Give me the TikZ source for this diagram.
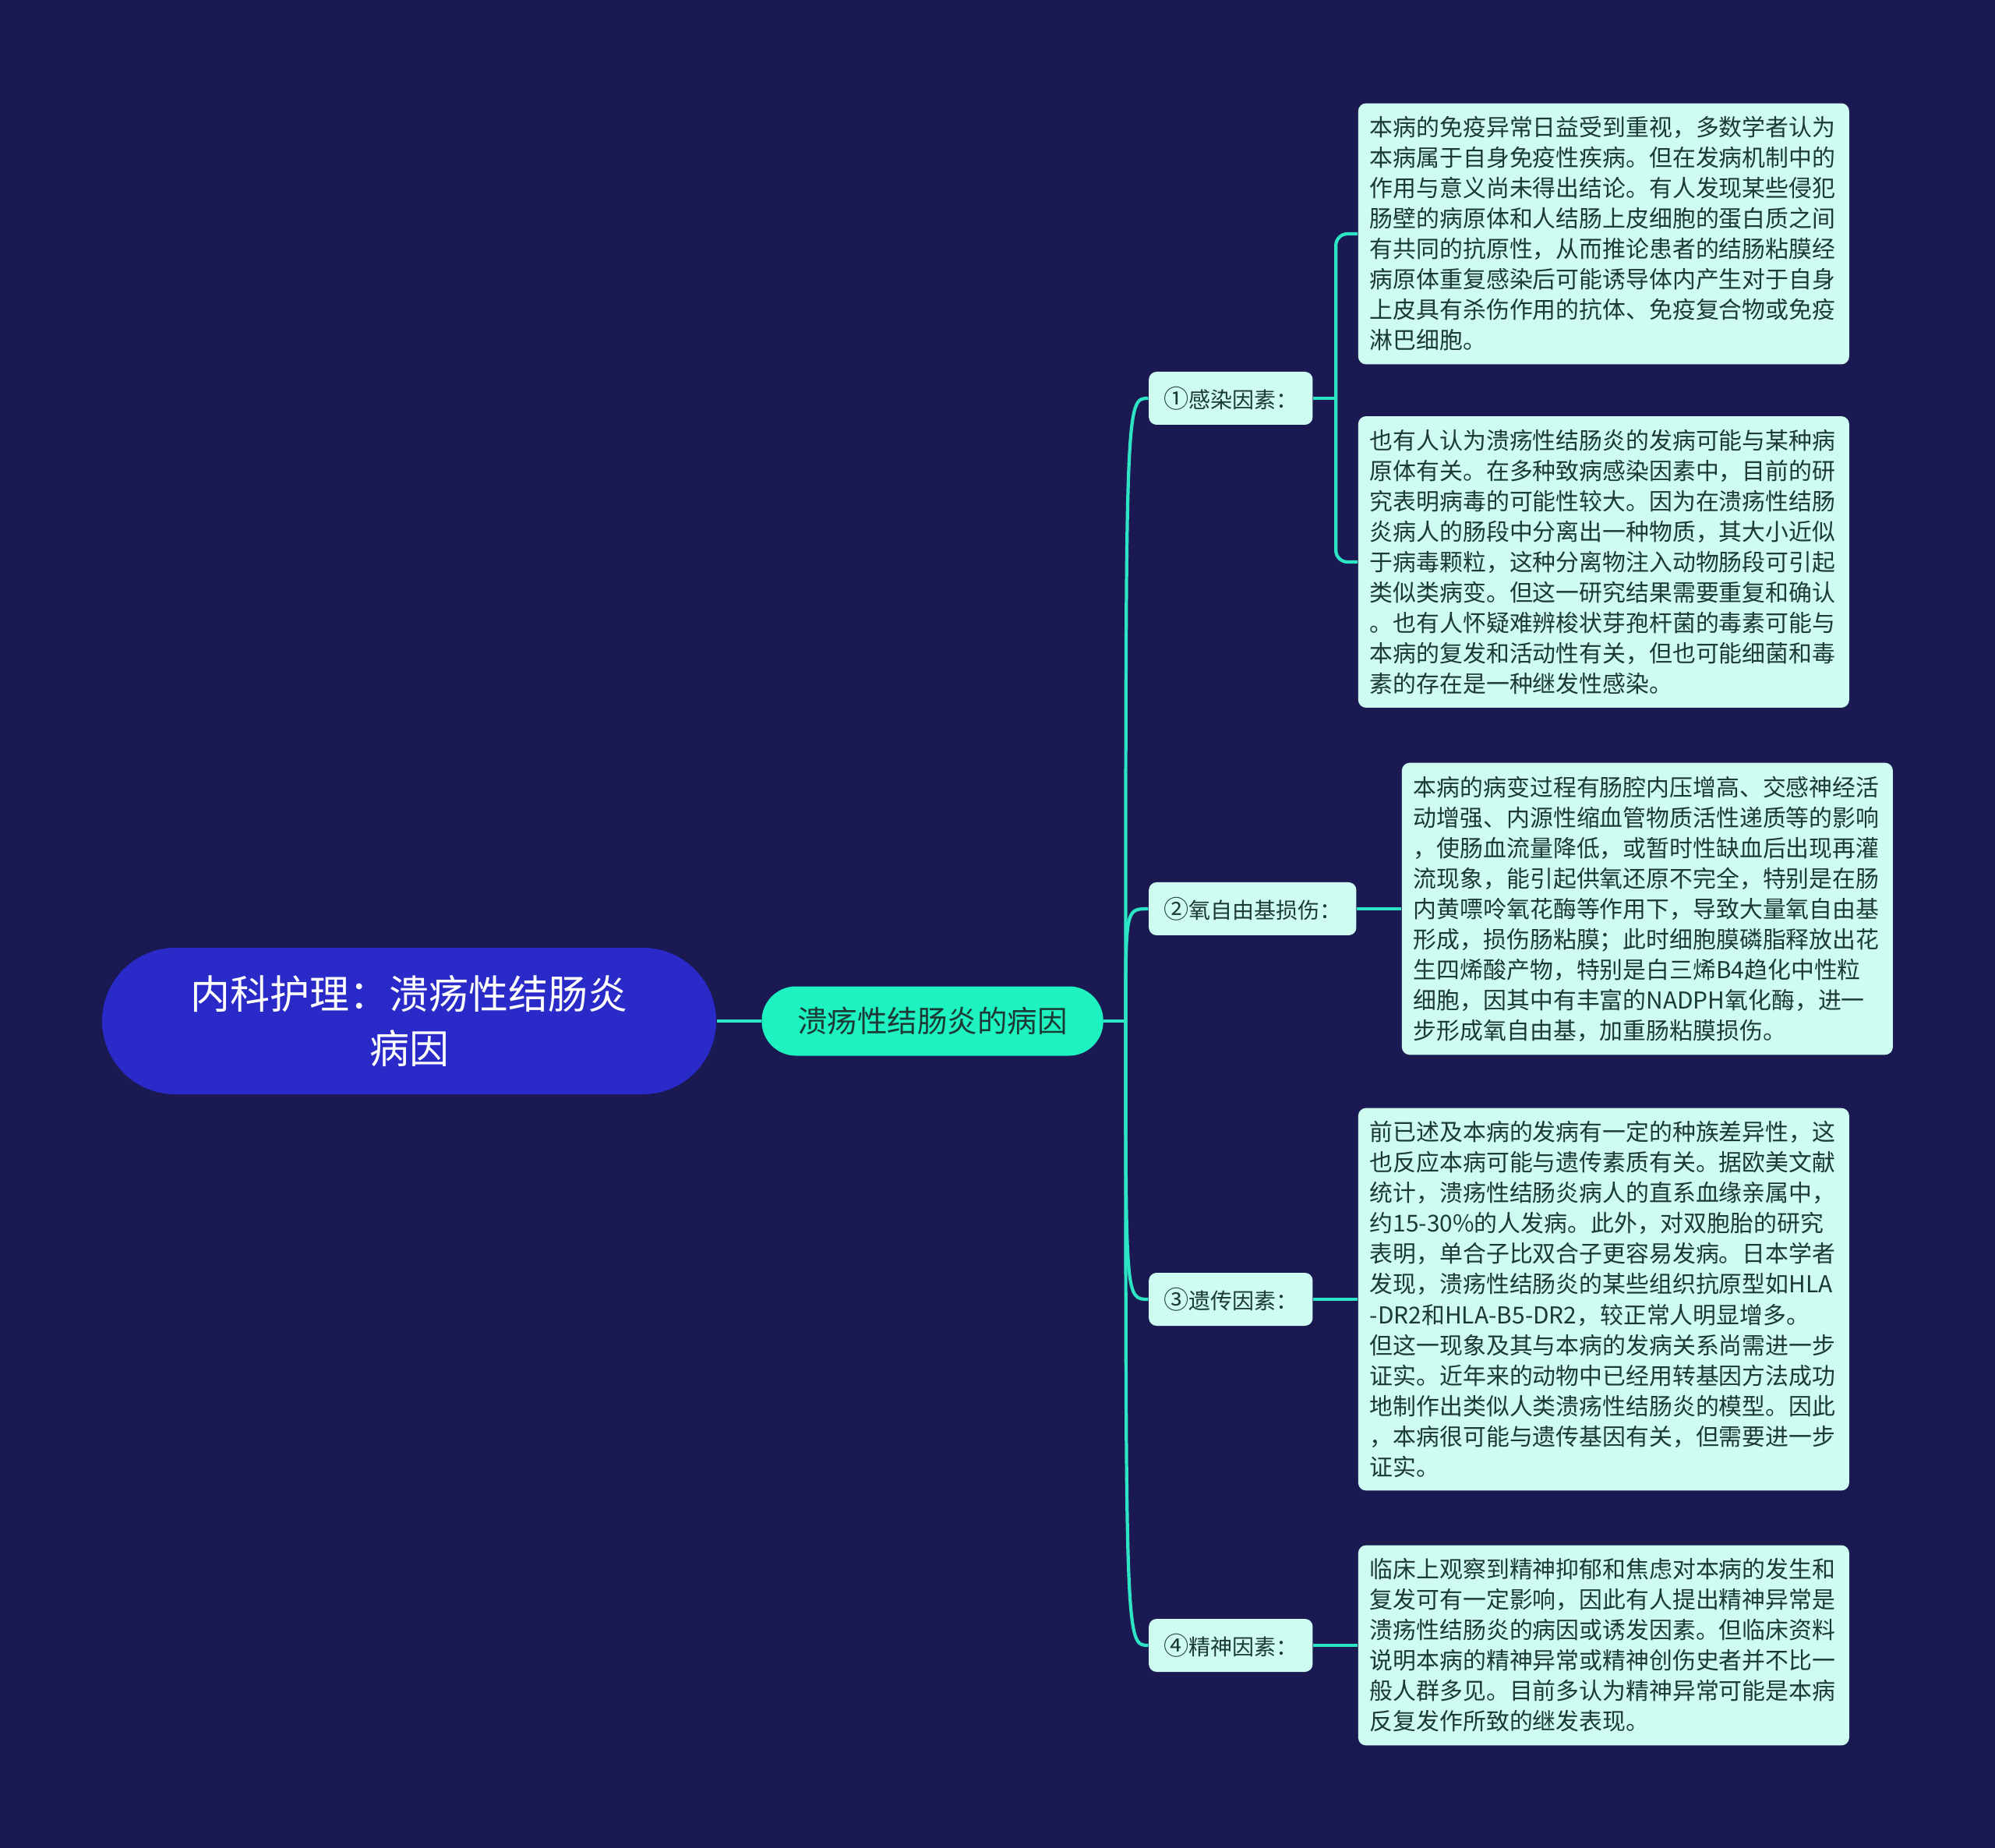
\documentclass[tikz,border=0pt]{standalone}
\usepackage{fontspec}
\newfontfamily\cjk{Noto Sans CJK SC}
\usepackage{xcolor}
\usepackage{tikz}
\usetikzlibrary{positioning}

\definecolor{bgnavy}{HTML}{1A1952}
\definecolor{rootblue}{HTML}{2A2AC8}
\definecolor{mint}{HTML}{1DF2C0}
\definecolor{palemint}{HTML}{CFFCF0}
\definecolor{inkgreen}{HTML}{1C3A35}
\definecolor{linkteal}{HTML}{2DE5C5}

\newcommand{\circnum}[1]{\scalebox{1.15}{#1}}

\begin{document}
\begin{tikzpicture}[
        node distance=0.57cm,
        % 
        root node/.style={
            rectangle,
            rounded corners=0.94cm,
            fill=rootblue,
            minimum width=7.88cm,
            minimum height=1.88cm,
            text=white,
            align=center,
            font=\cjk\fontsize{14.5pt}{19.9pt}\selectfont,
        },
        % 
        cause node/.style={
            rectangle,
            rounded corners=0.44cm,
            fill=mint,
            minimum height=0.89cm,
            inner xsep=0.46cm,
            text=inkgreen,
            font=\cjk\fontsize{10.95pt}{13pt}\selectfont,
        },
        factor node/.style={
            rectangle,
            rounded corners=0.1cm,
            fill=palemint,
            minimum height=0.68cm,
            inner xsep=0.19cm,
            text=inkgreen,
            font=\cjk\fontsize{7.97pt}{10pt}\selectfont,
        },
        leaf node/.style={
            rectangle,
            rounded corners=0.1cm,
            fill=palemint,
            text width=6.0cm,
            inner xsep=0.15cm,
            inner ysep=0.17cm,
            align=left,
            text=inkgreen,
            font=\cjk\fontsize{8.5pt}{11.1pt}\selectfont,
        },
        branch edge/.style={draw=linkteal, line width=1.2pt},
        ]
        
        \fill[bgnavy] (0,0) rectangle (25.60,-23.71);
        
        % Vertices
        
        \node[root node] (root) at (5.25,-13.10) {内科护理：溃疡性结肠炎\\病因};
        \node[cause node, right=of root] (causes) {溃疡性结肠炎的病因};
        \coordinate[right=0.28cm of causes] (hub);
        
        \node[factor node, right=of causes, yshift=7.99cm] (infect) {\circnum{①}感染因素：};
        \node[factor node, right=of causes, yshift=1.44cm] (oxygen) {\circnum{②}氧自由基损伤：};
        \node[factor node, right=of causes, yshift=-3.57cm] (genetic) {\circnum{③}遗传因素：};
        \node[factor node, right=of causes, yshift=-8.01cm] (mental) {\circnum{④}精神因素：};
        
        \node[leaf node, right=of infect, yshift=2.11cm] (infect-a) {本病的免疫异常日益受到重视，多数学者认为\\本病属于自身免疫性疾病。但在发病机制中的\\作用与意义尚未得出结论。有人发现某些侵犯\\肠壁的病原体和人结肠上皮细胞的蛋白质之间\\有共同的抗原性，从而推论患者的结肠粘膜经\\病原体重复感染后可能诱导体内产生对于自身\\上皮具有杀伤作用的抗体、免疫复合物或免疫\\淋巴细胞。};
        \node[leaf node, right=of infect, yshift=-2.10cm] (infect-b) {也有人认为溃疡性结肠炎的发病可能与某种病\\原体有关。在多种致病感染因素中，目前的研\\究表明病毒的可能性较大。因为在溃疡性结肠\\炎病人的肠段中分离出一种物质，其大小近似\\于病毒颗粒，这种分离物注入动物肠段可引起\\类似类病变。但这一研究结果需要重复和确认\\。也有人怀疑难辨梭状芽孢杆菌的毒素可能与\\本病的复发和活动性有关，但也可能细菌和毒\\素的存在是一种继发性感染。};
        \node[leaf node, right=of oxygen] (oxygen-a) {本病的病变过程有肠腔内压增高、交感神经活\\动增强、内源性缩血管物质活性递质等的影响\\，使肠血流量降低，或暂时性缺血后出现再灌\\流现象，能引起供氧还原不完全，特别是在肠\\内黄嘌呤氧花酶等作用下，导致大量氧自由基\\形成，损伤肠粘膜；此时细胞膜磷脂释放出花\\生四烯酸产物，特别是白三烯B4趋化中性粒\\细胞，因其中有丰富的NADPH氧化酶，进一\\步形成氧自由基，加重肠粘膜损伤。};
        \node[leaf node, right=of genetic] (genetic-a) {前已述及本病的发病有一定的种族差异性，这\\也反应本病可能与遗传素质有关。据欧美文献\\统计，溃疡性结肠炎病人的直系血缘亲属中，\\约15-30\%的人发病。此外，对双胞胎的研究\\表明，单合子比双合子更容易发病。日本学者\\发现，溃疡性结肠炎的某些组织抗原型如HLA\\-DR2和HLA-B5-DR2，较正常人明显增多。\\但这一现象及其与本病的发病关系尚需进一步\\证实。近年来的动物中已经用转基因方法成功\\地制作出类似人类溃疡性结肠炎的模型。因此\\，本病很可能与遗传基因有关，但需要进一步\\证实。};
        \node[leaf node, right=of mental] (mental-a) {临床上观察到精神抑郁和焦虑对本病的发生和\\复发可有一定影响，因此有人提出精神异常是\\溃疡性结肠炎的病因或诱发因素。但临床资料\\说明本病的精神异常或精神创伤史者并不比一\\般人群多见。目前多认为精神异常可能是本病\\反复发作所致的继发表现。};
        
        % Edges
        
        \draw[branch edge] (root) -- (causes);
        \draw[branch edge] (causes) -- (hub);
        \foreach \f in {infect, oxygen, genetic, mental}
            \draw[branch edge] (hub) .. controls (hub |- \f.west) .. (\f.west);
        %
        \draw[branch edge] (infect.east) -- ++(0.29,0) coordinate (infect-hub);
        \draw[branch edge, rounded corners=0.15cm] (infect-hub) |- (infect-a.west);
        \draw[branch edge, rounded corners=0.15cm] (infect-hub) |- (infect-b.west);
        %
        \draw[branch edge] (oxygen) -- (oxygen-a);
        \draw[branch edge] (genetic) -- (genetic-a);
        \draw[branch edge] (mental) -- (mental-a);
        % 
    \end{tikzpicture}
\end{document}
